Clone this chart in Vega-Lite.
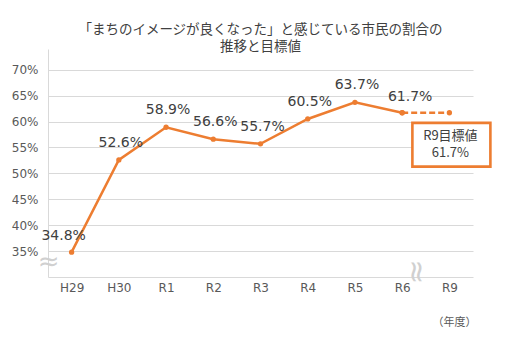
{
  "$schema": "https://vega.github.io/schema/vega-lite/v6.json",
  "width": 425,
  "height": 228,
  "autosize": {"type": "none"},
  "padding": {"left": 48, "top": 49, "right": 45, "bottom": 65},
  "background": "white",
  "config": {"view": {"stroke": null}},
  "title": {
    "text": ["「まちのイメージが良くなった」と感じている市民の割合の", "推移と目標値"],
    "font": "Noto Sans CJK JP",
    "fontSize": 13.5,
    "fontWeight": "normal",
    "color": "#404040",
    "anchor": "middle",
    "frame": "group",
    "lineHeight": 17,
    "offset": -4
  },
  "datasets": {
    "actual": [
      {"year": "H29", "value": 34.8, "label": "34.8%"},
      {"year": "H30", "value": 52.6, "label": "52.6%"},
      {"year": "R1", "value": 58.9, "label": "58.9%"},
      {"year": "R2", "value": 56.6, "label": "56.6%"},
      {"year": "R3", "value": 55.7, "label": "55.7%"},
      {"year": "R4", "value": 60.5, "label": "60.5%"},
      {"year": "R5", "value": 63.7, "label": "63.7%"},
      {"year": "R6", "value": 61.7, "label": "61.7%"}
    ],
    "target": [
      {"year": "R6", "value": 61.7},
      {"year": "R9", "value": 61.7, "note": "R9目標値\n61.7%"}
    ],
    "breaks": [
      {"year": "H29", "value": 32.9, "sym": "≈", "axis": "y"},
      {"year": "R6", "value": 31.0, "sym": "≈", "axis": "x"}
    ]
  },
  "encoding": {
    "x": {
      "field": "year",
      "type": "ordinal",
      "sort": ["H29", "H30", "R1", "R2", "R3", "R4", "R5", "R6", "R9"],
      "scale": {"type": "point", "padding": 0.5, "domain": ["H29", "H30", "R1", "R2", "R3", "R4", "R5", "R6", "R9"]},
      "axis": {
        "labelAngle": 0,
        "labelFont": "DejaVu Sans",
        "labelFontSize": 12,
        "labelColor": "#595959",
        "labelPadding": 5,
        "ticks": false,
        "domainColor": "#d9d9d9",
        "title": "（年度）",
        "titleFont": "Noto Sans CJK JP",
        "titleFontSize": 11,
        "titleFontWeight": "normal",
        "titleColor": "#595959",
        "titleAnchor": "end",
        "titleAlign": "right",
        "titleX": 428,
        "titleY": 45,
        "titleBaseline": "middle"
      }
    },
    "y": {
      "field": "value",
      "type": "quantitative",
      "scale": {"domain": [30, 74], "nice": false, "zero": false},
      "axis": {
        "values": [35, 40, 45, 50, 55, 60, 65, 70],
        "labelExpr": "datum.value + '%'",
        "labelFont": "DejaVu Sans",
        "labelFontSize": 12,
        "labelColor": "#595959",
        "labelPadding": 10,
        "ticks": false,
        "grid": true,
        "gridColor": "#d9d9d9",
        "domainColor": "#d9d9d9",
        "title": null
      }
    }
  },
  "layer": [
    {
      "data": {"name": "breaks"},
      "transform": [{"filter": "datum.axis == 'y'"}],
      "mark": {"type": "text", "font": "DejaVu Sans", "fontSize": 26, "color": "#d0d0d0", "dx": -23, "baseline": "middle"},
      "encoding": {"text": {"field": "sym"}}
    },
    {
      "data": {"name": "breaks"},
      "transform": [{"filter": "datum.axis == 'x'"}],
      "mark": {"type": "text", "font": "DejaVu Sans", "fontSize": 30, "color": "#d0d0d0", "dx": 0, "dy": -14, "angle": 90, "baseline": "middle"},
      "encoding": {"text": {"field": "sym"}}
    },
    {
      "data": {"name": "actual"},
      "mark": {"type": "line", "color": "#ED7D31", "strokeWidth": 2.5},
      "encoding": {}
    },
    {
      "data": {"name": "target"},
      "mark": {"type": "line", "color": "#ED7D31", "strokeWidth": 2.5, "strokeDash": [6, 3]},
      "encoding": {}
    },
    {
      "data": {"name": "actual"},
      "mark": {"type": "point", "filled": true, "color": "#ED7D31", "size": 28, "opacity": 1},
      "encoding": {}
    },
    {
      "data": {"name": "target"},
      "mark": {"type": "point", "filled": true, "color": "#ED7D31", "size": 28, "opacity": 1},
      "encoding": {}
    },
    {
      "data": {"name": "actual"},
      "transform": [{"filter": "datum.year == 'H29'"}],
      "mark": {"type": "text", "font": "DejaVu Sans", "fontSize": 14, "color": "#404040", "dx": -8, "dy": -16, "baseline": "middle"},
      "encoding": {"text": {"field": "label"}}
    },
    {
      "data": {"name": "actual"},
      "transform": [{"filter": "datum.year == 'R6'"}],
      "mark": {"type": "text", "font": "DejaVu Sans", "fontSize": 14, "color": "#404040", "dx": 8, "dy": -16, "baseline": "middle"},
      "encoding": {"text": {"field": "label"}}
    },
    {
      "data": {"name": "actual"},
      "transform": [{"filter": "datum.year != 'H29' && datum.year != 'R6'"}],
      "mark": {"type": "text", "font": "DejaVu Sans", "fontSize": 14, "color": "#404040", "dx": 2, "dy": -17, "baseline": "middle"},
      "encoding": {"text": {"field": "label"}}
    },
    {
      "data": {"name": "target"},
      "transform": [{"filter": "datum.year == 'R9'"}],
      "mark": {
        "type": "point",
        "shape": "M-1,-0.56L1,-0.56L1,0.56L-1,0.56Z",
        "size": 6084,
        "filled": false,
        "fill": "white",
        "fillOpacity": 1,
        "stroke": "#ED7D31",
        "strokeWidth": 2.6,
        "opacity": 1,
        "xOffset": 2,
        "yOffset": 32
      },
      "encoding": {}
    },
    {
      "data": {"name": "target"},
      "transform": [{"filter": "datum.year == 'R9'"}],
      "mark": {"type": "text", "font": "Noto Sans CJK JP", "fontSize": 13, "color": "#404040", "lineBreak": "\n", "lineHeight": 17, "baseline": "top", "dx": 1, "dy": 17},
      "encoding": {"text": {"field": "note"}}
    }
  ]
}
